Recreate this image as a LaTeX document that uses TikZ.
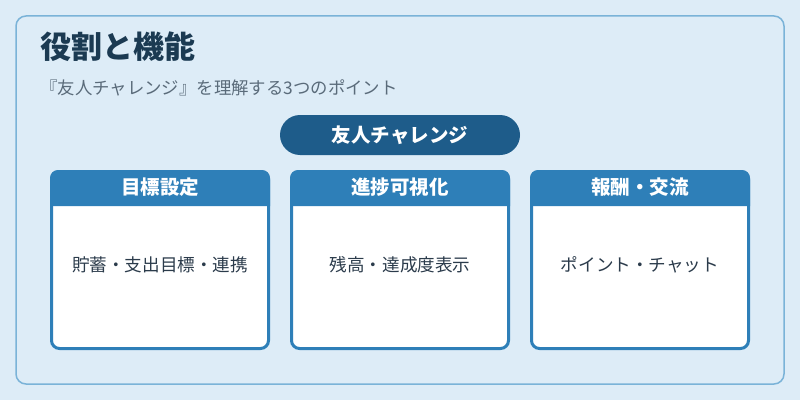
\documentclass[tikz,border=0pt]{standalone}
\usepackage{fontspec}
\setmainfont{Noto Sans CJK JP}
\usetikzlibrary{positioning}
\definecolor{bgblue}{HTML}{DDECF7}
\definecolor{frameblue}{HTML}{7AB3D8}
\definecolor{pillblue}{HTML}{1E5C8A}
\definecolor{cardblue}{HTML}{2E7FB8}
\definecolor{titleink}{HTML}{1B3A52}
\definecolor{subink}{HTML}{5A6B7A}
\definecolor{bodyink}{HTML}{2B3B4B}
\tikzset{
  frame/.style    = {draw=frameblue, line width=1.5pt, fill=bgblue,
                     rounded corners=10pt},
  heading/.style  = {anchor=west, inner sep=0pt, text=titleink,
                     font=\bfseries\fontsize{31}{33}\selectfont},
  subhead/.style  = {anchor=west, inner sep=0pt, text=subink,
                     font=\fontsize{17.4}{19}\selectfont},
  pill/.style     = {shape=rectangle, rounded corners=20pt, fill=pillblue,
                     minimum width=240pt, minimum height=40pt, text=white,
                     font=\bfseries\fontsize{19.5}{21}\selectfont},
  card/.style     = {shape=rectangle, rounded corners=8pt, draw=cardblue,
                     line width=3pt, fill=white,
                     minimum width=217pt, minimum height=177pt},
  cardhead/.style = {text=white, inner sep=0pt,
                     font=\bfseries\fontsize{19.5}{21}\selectfont},
  cardtext/.style = {text=bodyink, inner sep=0pt,
                     font=\fontsize{17.6}{19}\selectfont}
}
\newcommand{\headbar}[1]{%
  \fill[cardblue] ([yshift=-36pt]#1.north west)
    {[rounded corners=8pt] -- (#1.north west) -- (#1.north east)}
    -- ([yshift=-36pt]#1.north east) -- cycle;}

\begin{document}
\begin{tikzpicture}[x=1pt, y=1pt]
\useasboundingbox (0,0) rectangle (800,400);
\fill[bgblue] (0,0) rectangle (800,400);
\draw[frame] (16,16) rectangle (784,384);
\node [heading] (title) at (40,353) {役割と機能};
\node [subhead] (sub) at (40,312) {『友人チャレンジ』を理解する3つのポイント};
\node [pill] (hub) at (400,265) {友人チャレンジ};
\node [card] (goal) at (160,140) {};
\node [card, right=20pt of goal] (progress) {};
\node [card, right=20pt of progress] (reward) {};
\headbar{goal}
\headbar{progress}
\headbar{reward}
\node [cardhead, below=17.5pt of goal.north, anchor=center] {目標設定};
\node [cardhead, below=17.5pt of progress.north, anchor=center] {進捗可視化};
\node [cardhead, below=17.5pt of reward.north, anchor=center] {報酬・交流};
\node [cardtext, above=-5pt of goal.center, anchor=center] {貯蓄・支出目標・連携};
\node [cardtext, above=-5pt of progress.center, anchor=center] {残高・達成度表示};
\node [cardtext, above=-5pt of reward.center, anchor=center] {ポイント・チャット};
\end{tikzpicture}
\end{document}
